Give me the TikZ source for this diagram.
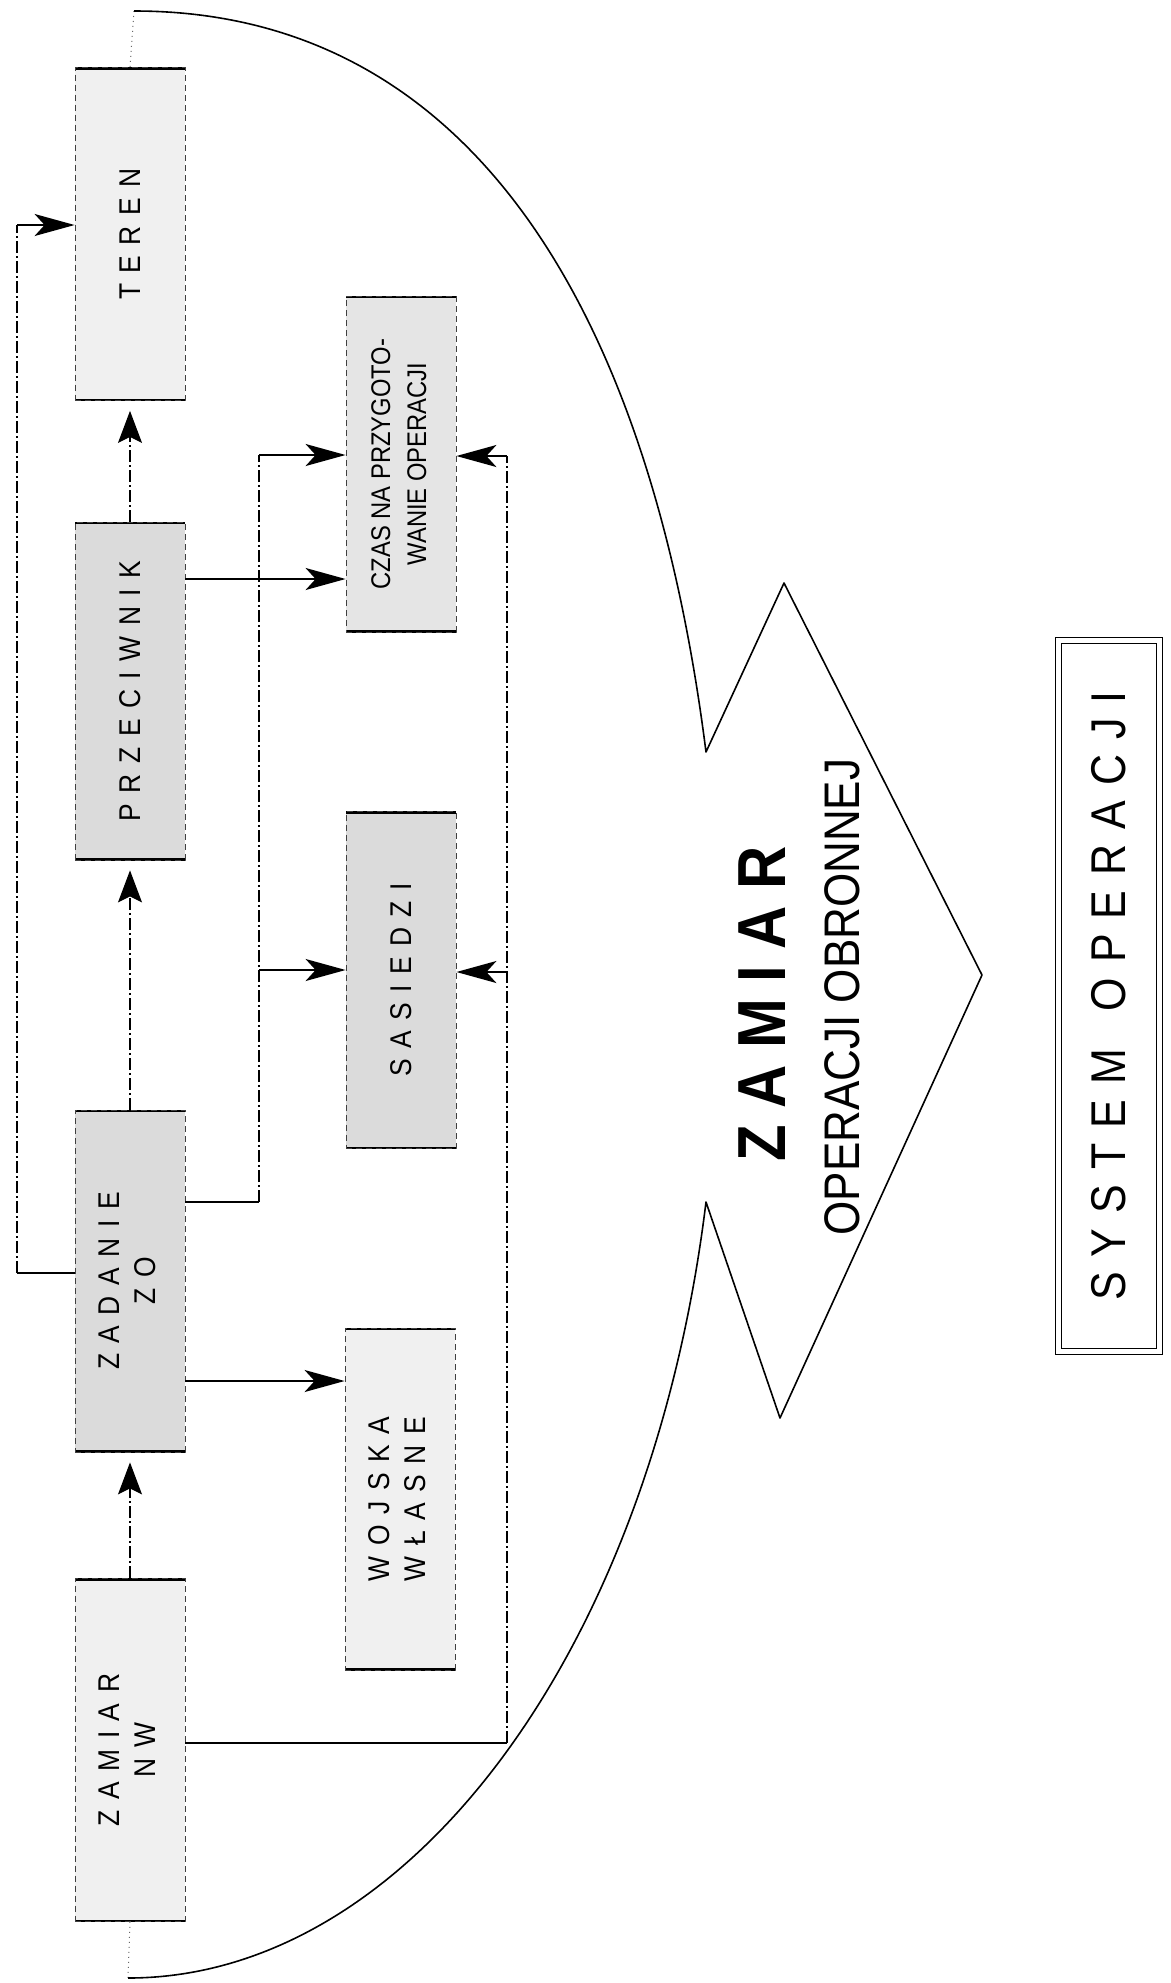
\documentclass[tikz,border=0pt]{standalone}
\usepackage{fontspec}
\setmainfont{Liberation Sans}
\newfontfamily\narrowfont[FakeStretch=0.88]{Liberation Sans}
\usepackage{graphicx}
\usetikzlibrary{arrows.meta}

\newcommand\boxtext{\narrowfont\fontsize{15}{18}\selectfont\spaceskip=0.35em\relax}
\newcommand\systext{\narrowfont\fontsize{24.4}{28}\selectfont\spaceskip=7.5pt\relax}
\newcommand\twolines[2]{\begin{tabular}{@{}c@{}}#1\\#2\end{tabular}}

\tikzset{
  box/.style={draw=black!75, densely dashed, line width=0.4pt, minimum width=55pt,
    inner sep=0pt, font=\boxtext,
    path picture={\draw[black, solid, line width=2pt]
      (path picture bounding box.north west) -- (path picture bounding box.north east)
      (path picture bounding box.south west) -- (path picture bounding box.south east);}},
  lightbox/.style={box, fill=black!6},
  midbox/.style={box, fill=black!10},
  darkbox/.style={box, fill=black!14},
  wire/.style={line width=0.9pt},
  bus/.style={line width=0.6pt, dash pattern=on 6pt off 1.5pt on 1pt off 1.5pt},
  arrin/.style={-{Stealth[length=20pt,width=11pt,inset=5pt]}},
  arrup/.style={-{Stealth[length=16pt,width=12pt,inset=3pt]}, shorten >=5pt},
  centre/.style={black!60, line width=0.5pt, dotted},
  outline/.style={line width=0.8pt, line join=round},
}

\begin{document}
\begin{tikzpicture}[x=0.5pt, y=-0.5pt]
  \useasboundingbox (0,0) rectangle (1171,1983);

  % left column
  \node[lightbox, minimum height=166.5pt] (teren) at (130,234) {\rotatebox{90}{T E R E N}};
  \node[darkbox, minimum height=169pt] (przeciwnik) at (130,691) {\rotatebox{90}{P R Z E C I W N I K}};
  \node[darkbox, minimum height=171pt] (zadanie) at (130,1281) {\rotatebox{90}{\twolines{Z A D A N I E}{Z O}}};
  \node[lightbox, minimum height=171.5pt] (zamiarnw) at (130,1750) {\rotatebox{90}{\twolines{Z A M I A R}{N W}}};

  % right column
  \node[midbox, minimum height=168pt] (czas) at (401,464)
    {\fontsize{13.5}{18}\selectfont\spaceskip=0pt\relax\rotatebox{90}{\twolines{CZAS NA PRZYGOTO-}{WANIE OPERACJI}}};
  \node[darkbox, minimum height=168.5pt] (sasiedzi) at (401,980) {\rotatebox{90}{S A S I E D Z I}};
  \node[lightbox, minimum height=171pt] (wojska) at (400,1499) {\rotatebox{90}{\twolines{W O J S K A}{W Ł A S N E}}};

  % chain
  \draw[bus, arrup] (zamiarnw.north) -- (zadanie.south);
  \draw[bus, arrup] (zadanie.north) -- (przeciwnik.south);
  \draw[bus, arrup] (przeciwnik.north) -- (teren.south);

  \coordinate (busL) at (17,0);
  \coordinate (busM) at (259,0);
  \coordinate (busR) at (507,0);

  % zadanie -> teren
  \coordinate (zw) at ([yshift=4pt]zadanie.west);
  \coordinate (tw) at ([yshift=4.5pt]teren.west);
  \draw[wire] (zw) -- (zw -| busL);
  \draw[bus] (zw -| busL) -- (tw -| busL);
  \draw[wire, arrin] (tw -| busL) -- (tw);

  % zadanie -> czas, sasiedzi
  \coordinate (ze) at ([yshift=39.5pt]zadanie.east);
  \coordinate (cw) at ([yshift=4.5pt]czas.west);
  \coordinate (sw) at ([yshift=5pt]sasiedzi.west);
  \draw[wire] (ze) -- (ze -| busM);
  \draw[bus] (ze -| busM) -- (cw -| busM);
  \draw[wire, arrin] (cw -| busM) -- (cw);
  \draw[wire, arrin] (sw -| busM) -- (sw);

  \coordinate (pe) at ([yshift=56pt]przeciwnik.east);
  \draw[wire, arrin] (pe) -- (pe -| czas.west);
  \coordinate (zs) at ([yshift=-50pt]zadanie.east);
  \draw[wire, arrin] (zs) -- (zs -| wojska.west);

  % zamiar nw -> czas, sasiedzi
  \coordinate (nwe) at ([yshift=3.5pt]zamiarnw.east);
  \coordinate (ce) at ([yshift=4pt]czas.east);
  \coordinate (se) at ([yshift=4pt]sasiedzi.east);
  \draw[wire] (nwe) -- (nwe -| busR);
  \draw[bus] (nwe -| busR) -- (ce -| busR);
  \draw[wire, arrin] (ce -| busR) -- (ce);
  \draw[wire, arrin] (se -| busR) -- (se);

  % arc and big arrow
  \coordinate (arctop) at (134,11);
  \coordinate (arcbot) at (128,1978);
  \draw[centre] (arctop) -- (teren.north);
  \draw[centre] (zamiarnw.south) -- (arcbot);
  \draw[outline] (arctop) .. controls (466,11) and (649,302) .. (706,752)
    -- (784,583) -- (982,975) -- (780,1418) -- (706,1202)
    .. controls (651,1652) and (408,1978) .. (arcbot);

  \node[rotate=90, font=\narrowfont\bfseries\fontsize{34}{36}\selectfont] (zamiarop) at (762,1004) {Z A M I A R};
  \node[rotate=90, font=\narrowfont\fontsize{25}{26}\selectfont] (obronnej) at (842,997) {OPERACJI OBRONNEJ};

  \node[draw, double, double distance=2.5pt, line width=0.6pt, minimum width=50.3pt,
    minimum height=355.3pt, inner sep=0pt, font=\systext] (system) at (1109,996)
    {\rotatebox{90}{S Y S T E M\hspace{19pt}O P E R A C J I}};
\end{tikzpicture}
\end{document}
